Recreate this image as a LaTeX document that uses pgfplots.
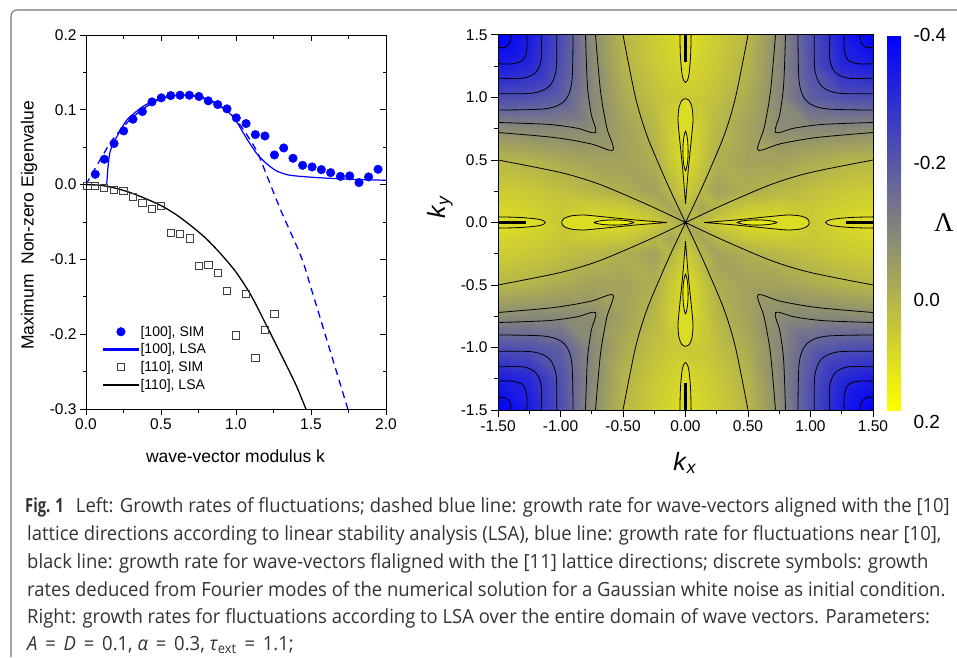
\documentclass[border=0pt]{standalone}
\usepackage{pgfplots}
\pgfplotsset{compat=1.18}
\usepackage{fontspec}
\setmainfont{Liberation Sans}
\newfontfamily\serifL{Liberation Serif}
\newfontfamily\capfont[FakeStretch=0.947]{Open Sans}
\definecolor{lobeA}{RGB}{220,220,36}
\definecolor{lobeB}{RGB}{232,232,20}
\definecolor{bblue}{RGB}{0,0,255}
\pgfplotsset{
  markleg/.style={legend image code/.code={\draw[##1, only marks] plot coordinates {(17pt,0pt)};}},
}
\begin{document}
\begin{tikzpicture}[x=1pt,y=1pt]
\path[use as bounding box] (0,0) rectangle (957,657);
\draw[line width=1.1pt, black!55, rounded corners=6pt] (11,0) -- (11,647) -- (960,647);

% ---------------- left plot ----------------
\begin{axis}[at={(86pt,248pt)}, anchor=south west, width=300pt, height=374pt, scale only axis,
  xmin=0, xmax=2, ymin=-0.3, ymax=0.2,
  xtick={0,0.5,1,1.5,2}, xticklabels={0.0,0.5,1.0,1.5,2.0},
  ytick={-0.3,-0.2,-0.1,0,0.1,0.2}, yticklabels={-0.3,-0.2,-0.1,0.0,0.1,0.2},
  minor x tick num=1, minor y tick num=1,
  xtick pos=left, ytick pos=left, tick align=outside,
  major tick length=6pt, minor tick length=3.5pt,
  axis line style={line width=1pt}, tick style={line width=1pt, black},
  tick label style={font=\fontsize{15.5}{15.5}\selectfont},
  legend style={draw=none, fill=none, at={(rel axis cs:0.057,0.228)}, anchor=north west,
    font=\fontsize{14}{14}\selectfont, row sep=2pt, inner sep=0pt, cells={anchor=west}},
  legend cell align=left]
\addplot[only marks, mark=*, mark size=4.3pt, color=bblue, mark options={fill=bblue}, markleg] coordinates {
(0.062,0.0138) (0.122,0.0339) (0.187,0.0549) (0.251,0.0718) (0.313,0.0874) (0.376,0.0977)
(0.44,0.1106) (0.502,0.116) (0.565,0.119) (0.627,0.1195) (0.689,0.1195) (0.753,0.1178)
(0.815,0.112) (0.878,0.107) (0.94,0.1013) (1.002,0.0892) (1.067,0.0816) (1.129,0.0669)
(1.193,0.065) (1.256,0.0396) (1.318,0.049) (1.38,0.0352) (1.444,0.0258) (1.507,0.0236)
(1.569,0.020) (1.631,0.016) (1.696,0.011) (1.758,0.0116) (1.82,0.0027) (1.884,0.0103)
(1.947,0.0205) (2.004,0.0067)};
\addlegendentry{[100], SIM}
\addplot[color=bblue, line width=1.2pt, smooth, tension=0.4,
  legend image code/.code={\fill[fill=bblue] (0pt,-0.5pt) rectangle (34pt,0.5pt);}] coordinates {
(0.138,0) (0.1467,0.0236) (0.16,0.0437) (0.193,0.0593) (0.271,0.086) (0.382,0.1048)
(0.493,0.115) (0.627,0.1195) (0.76,0.1175) (0.871,0.1084) (0.982,0.0905) (1.071,0.0616)
(1.138,0.0415) (1.204,0.028) (1.271,0.0182) (1.36,0.0125) (1.538,0.0094) (1.76,0.0072) (2.0,0.0058)};
\addlegendentry{[100], LSA}
\addplot[only marks, mark=square, mark size=3.6pt, color=black!75, mark options={line width=0.9pt}, markleg] coordinates {
(0.009,-0.0019) (0.06,-0.002) (0.122,-0.004) (0.187,-0.0067) (0.249,-0.0085) (0.311,-0.0166)
(0.376,-0.025) (0.438,-0.0321) (0.502,-0.029) (0.564,-0.0648) (0.627,-0.066) (0.691,-0.0719)
(0.753,-0.109) (0.816,-0.1076) (0.878,-0.118) (0.94,-0.142) (1.002,-0.2017) (1.064,-0.1464)
(1.129,-0.2316) (1.191,-0.194) (1.256,-0.1732)};
\addlegendentry{[110], SIM}
\addplot[black, line width=1.3pt, smooth,
  legend image code/.code={\fill[fill=black] (0pt,-0.5pt) rectangle (34pt,0.5pt);}] coordinates {
(0,0) (0.1,-0.001) (0.2,-0.005) (0.3,-0.011) (0.4,-0.019) (0.5,-0.028) (0.6,-0.040)
(0.7,-0.055) (0.8,-0.072) (0.9,-0.093) (1.0,-0.117) (1.1,-0.148) (1.2,-0.187) (1.3,-0.227)
(1.4,-0.268) (1.47,-0.302)};
\addlegendentry{[110], LSA}
\addplot[color=bblue, line width=1.3pt, dash pattern=on 7pt off 5pt, smooth, forget plot] coordinates {
(0,0) (0.05,0.018) (0.1,0.035) (0.15,0.052) (0.2,0.066) (0.3,0.088) (0.4,0.104) (0.5,0.115)
(0.6,0.1195) (0.7,0.119) (0.8,0.114) (0.9,0.104) (1.0,0.087) (1.1,0.058) (1.15,0.040)
(1.2,0.015) (1.3,-0.035) (1.4,-0.080) (1.45,-0.105) (1.5,-0.138) (1.6,-0.204) (1.7,-0.270) (1.75,-0.303)};
\end{axis}
\begin{axis}[at={(86pt,248pt)}, anchor=south west, width=300pt, height=374pt, scale only axis,
  xmin=0, xmax=2, ymin=-0.3, ymax=0.2,
  xtick={0,0.5,1,1.5,2}, ytick={-0.3,-0.2,-0.1,0,0.1,0.2}, xticklabels={}, yticklabels={},
  minor x tick num=1, minor y tick num=1,
  xtick pos=right, ytick pos=right, tick align=inside,
  major tick length=6pt, minor tick length=3.5pt,
  axis line style={line width=1pt}, tick style={line width=1pt, black}]
\end{axis}
\node[font=\fontsize{17.5}{17.5}\selectfont] at (235.5,201) {wave-vector modulus k};
\node[rotate=90, font=\fontsize{17.5}{17.5}\selectfont] at (29,431.5) {Maximum\ \ Non-zero Eigenvalue};

% ---------------- right plot ----------------
\begin{axis}[at={(498pt,247pt)}, anchor=south west, width=375pt, height=375pt, scale only axis,
  xmin=-1.5, xmax=1.5, ymin=-1.5, ymax=1.5,
  xtick={-1.5,-1,-0.5,0,0.5,1,1.5}, xticklabels={-1.50,-1.00,-0.50,0.00,0.50,1.00,1.50},
  ytick={-1.5,-1,-0.5,0,0.5,1,1.5}, yticklabels={-1.5,-1.0,-0.5,0.0,0.5,1.0,1.5},
  minor x tick num=1, minor y tick num=1,
  xtick pos=left, ytick pos=left, tick align=outside,
  major tick length=7pt, minor tick length=4pt,
  axis line style={line width=1pt}, tick style={line width=1pt, black},
  tick label style={font=\fontsize{15.5}{15.5}\selectfont},
  axis on top,
  colormap={bgy}{rgb255(0cm)=(0,0,255); rgb255(3cm)=(128,128,128); rgb255(6cm)=(255,255,0)},
  point meta min=-0.4, point meta max=0.2,
  colorbar,
  colorbar style={at={(1.0373,1)}, anchor=north west, width=20pt, y dir=reverse,
    ytick={-0.4,-0.195,0.024}, yticklabels={-0.4,-0.2,0.0},
    extra y ticks={0.2}, extra y tick labels={0.2},
    extra y tick style={yticklabel style={yshift=-12pt}},
    axis line style={draw=none}, major tick length=0pt,
    yticklabel style={font=\fontsize{19}{19}\selectfont, xshift=3pt}}]
\addplot[surf, shader=interp, mesh/cols=15, point meta=explicit] table[x=x, y=y, meta=v] {
x y v
-1.5 -1.5 -0.40
-1.25 -1.5 -0.34
-1 -1.5 -0.22
-0.75 -1.5 -0.07
-0.5 -1.5 0.03
-0.25 -1.5 0.08
-0.125 -1.5 0.10
0 -1.5 0.13
0.125 -1.5 0.10
0.25 -1.5 0.08
0.5 -1.5 0.03
0.75 -1.5 -0.07
1 -1.5 -0.22
1.25 -1.5 -0.34
1.5 -1.5 -0.40
-1.5 -1.25 -0.34
-1.25 -1.25 -0.31
-1 -1.25 -0.21
-0.75 -1.25 -0.08
-0.5 -1.25 0.02
-0.25 -1.25 0.07
-0.125 -1.25 0.09
0 -1.25 0.11
0.125 -1.25 0.09
0.25 -1.25 0.07
0.5 -1.25 0.02
0.75 -1.25 -0.08
1 -1.25 -0.21
1.25 -1.25 -0.31
1.5 -1.25 -0.34
-1.5 -1 -0.22
-1.25 -1 -0.21
-1 -1 -0.18
-0.75 -1 -0.08
-0.5 -1 0.00
-0.25 -1 0.05
-0.125 -1 0.07
0 -1 0.07
0.125 -1 0.07
0.25 -1 0.05
0.5 -1 0.00
0.75 -1 -0.08
1 -1 -0.18
1.25 -1 -0.21
1.5 -1 -0.22
-1.5 -0.75 -0.07
-1.25 -0.75 -0.08
-1 -0.75 -0.08
-0.75 -0.75 -0.07
-0.5 -0.75 -0.02
-0.25 -0.75 0.03
-0.125 -0.75 0.08
0 -0.75 0.12
0.125 -0.75 0.08
0.25 -0.75 0.03
0.5 -0.75 -0.02
0.75 -0.75 -0.07
1 -0.75 -0.08
1.25 -0.75 -0.08
1.5 -0.75 -0.07
-1.5 -0.5 0.03
-1.25 -0.5 0.02
-1 -0.5 0.00
-0.75 -0.5 -0.02
-0.5 -0.5 -0.02
-0.25 -0.5 0.01
-0.125 -0.5 0.07
0 -0.5 0.12
0.125 -0.5 0.07
0.25 -0.5 0.01
0.5 -0.5 -0.02
0.75 -0.5 -0.02
1 -0.5 0.00
1.25 -0.5 0.02
1.5 -0.5 0.03
-1.5 -0.25 0.08
-1.25 -0.25 0.07
-1 -0.25 0.05
-0.75 -0.25 0.03
-0.5 -0.25 0.01
-0.25 -0.25 -0.02
-0.125 -0.25 0.03
0 -0.25 0.08
0.125 -0.25 0.03
0.25 -0.25 -0.02
0.5 -0.25 0.01
0.75 -0.25 0.03
1 -0.25 0.05
1.25 -0.25 0.07
1.5 -0.25 0.08
-1.5 -0.125 0.10
-1.25 -0.125 0.09
-1 -0.125 0.07
-0.75 -0.125 0.08
-0.5 -0.125 0.07
-0.25 -0.125 0.03
-0.125 -0.125 -0.01
0 -0.125 0.04
0.125 -0.125 -0.01
0.25 -0.125 0.03
0.5 -0.125 0.07
0.75 -0.125 0.08
1 -0.125 0.07
1.25 -0.125 0.09
1.5 -0.125 0.10
-1.5 0 0.13
-1.25 0 0.11
-1 0 0.07
-0.75 0 0.12
-0.5 0 0.12
-0.25 0 0.08
-0.125 0 0.04
0 0 0.00
0.125 0 0.04
0.25 0 0.08
0.5 0 0.12
0.75 0 0.12
1 0 0.07
1.25 0 0.11
1.5 0 0.13
-1.5 0.125 0.10
-1.25 0.125 0.09
-1 0.125 0.07
-0.75 0.125 0.08
-0.5 0.125 0.07
-0.25 0.125 0.03
-0.125 0.125 -0.01
0 0.125 0.04
0.125 0.125 -0.01
0.25 0.125 0.03
0.5 0.125 0.07
0.75 0.125 0.08
1 0.125 0.07
1.25 0.125 0.09
1.5 0.125 0.10
-1.5 0.25 0.08
-1.25 0.25 0.07
-1 0.25 0.05
-0.75 0.25 0.03
-0.5 0.25 0.01
-0.25 0.25 -0.02
-0.125 0.25 0.03
0 0.25 0.08
0.125 0.25 0.03
0.25 0.25 -0.02
0.5 0.25 0.01
0.75 0.25 0.03
1 0.25 0.05
1.25 0.25 0.07
1.5 0.25 0.08
-1.5 0.5 0.03
-1.25 0.5 0.02
-1 0.5 0.00
-0.75 0.5 -0.02
-0.5 0.5 -0.02
-0.25 0.5 0.01
-0.125 0.5 0.07
0 0.5 0.12
0.125 0.5 0.07
0.25 0.5 0.01
0.5 0.5 -0.02
0.75 0.5 -0.02
1 0.5 0.00
1.25 0.5 0.02
1.5 0.5 0.03
-1.5 0.75 -0.07
-1.25 0.75 -0.08
-1 0.75 -0.08
-0.75 0.75 -0.07
-0.5 0.75 -0.02
-0.25 0.75 0.03
-0.125 0.75 0.08
0 0.75 0.12
0.125 0.75 0.08
0.25 0.75 0.03
0.5 0.75 -0.02
0.75 0.75 -0.07
1 0.75 -0.08
1.25 0.75 -0.08
1.5 0.75 -0.07
-1.5 1 -0.22
-1.25 1 -0.21
-1 1 -0.18
-0.75 1 -0.08
-0.5 1 0.00
-0.25 1 0.05
-0.125 1 0.07
0 1 0.07
0.125 1 0.07
0.25 1 0.05
0.5 1 0.00
0.75 1 -0.08
1 1 -0.18
1.25 1 -0.21
1.5 1 -0.22
-1.5 1.25 -0.34
-1.25 1.25 -0.31
-1 1.25 -0.21
-0.75 1.25 -0.08
-0.5 1.25 0.02
-0.25 1.25 0.07
-0.125 1.25 0.09
0 1.25 0.11
0.125 1.25 0.09
0.25 1.25 0.07
0.5 1.25 0.02
0.75 1.25 -0.08
1 1.25 -0.21
1.25 1.25 -0.31
1.5 1.25 -0.34
-1.5 1.5 -0.40
-1.25 1.5 -0.34
-1 1.5 -0.22
-0.75 1.5 -0.07
-0.5 1.5 0.03
-0.25 1.5 0.08
-0.125 1.5 0.10
0 1.5 0.13
0.125 1.5 0.10
0.25 1.5 0.08
0.5 1.5 0.03
0.75 1.5 -0.07
1 1.5 -0.22
1.25 1.5 -0.34
1.5 1.5 -0.40
};
% corner contours
\addplot[black, line width=0.8pt, smooth, tension=0.5, unbounded coords=jump] table {
x y
1.40 1.5
1.40 1.45
1.42 1.42
1.45 1.40
1.5 1.40
nan nan
1.27 1.5
1.27 1.38
1.30 1.30
1.38 1.27
1.5 1.27
nan nan
1.155 1.5
1.155 1.30
1.20 1.20
1.30 1.155
1.5 1.155
nan nan
1.03 1.5
1.035 1.22
1.09 1.09
1.22 1.035
1.5 1.03
nan nan
0.90 1.5
0.91 1.12
0.97 0.97
1.12 0.91
1.5 0.90
nan nan
0.80 1.5
0.785 1.1
0.755 0.87
0.72 0.72
0.87 0.755
1.1 0.785
1.5 0.80
nan nan
0.72 1.5
0.68 1.05
0.63 0.76
0.58 0.58
0.76 0.63
1.05 0.68
1.5 0.72
nan nan
-1.40 1.5
-1.40 1.45
-1.42 1.42
-1.45 1.40
-1.5 1.40
nan nan
-1.27 1.5
-1.27 1.38
-1.30 1.30
-1.38 1.27
-1.5 1.27
nan nan
-1.155 1.5
-1.155 1.30
-1.20 1.20
-1.30 1.155
-1.5 1.155
nan nan
-1.03 1.5
-1.035 1.22
-1.09 1.09
-1.22 1.035
-1.5 1.03
nan nan
-0.90 1.5
-0.91 1.12
-0.97 0.97
-1.12 0.91
-1.5 0.90
nan nan
-0.80 1.5
-0.785 1.1
-0.755 0.87
-0.72 0.72
-0.87 0.755
-1.1 0.785
-1.5 0.80
nan nan
-0.72 1.5
-0.68 1.05
-0.63 0.76
-0.58 0.58
-0.76 0.63
-1.05 0.68
-1.5 0.72
nan nan
1.40 -1.5
1.40 -1.45
1.42 -1.42
1.45 -1.40
1.5 -1.40
nan nan
1.27 -1.5
1.27 -1.38
1.30 -1.30
1.38 -1.27
1.5 -1.27
nan nan
1.155 -1.5
1.155 -1.30
1.20 -1.20
1.30 -1.155
1.5 -1.155
nan nan
1.03 -1.5
1.035 -1.22
1.09 -1.09
1.22 -1.035
1.5 -1.03
nan nan
0.90 -1.5
0.91 -1.12
0.97 -0.97
1.12 -0.91
1.5 -0.90
nan nan
0.80 -1.5
0.785 -1.1
0.755 -0.87
0.72 -0.72
0.87 -0.755
1.1 -0.785
1.5 -0.80
nan nan
0.72 -1.5
0.68 -1.05
0.63 -0.76
0.58 -0.58
0.76 -0.63
1.05 -0.68
1.5 -0.72
nan nan
-1.40 -1.5
-1.40 -1.45
-1.42 -1.42
-1.45 -1.40
-1.5 -1.40
nan nan
-1.27 -1.5
-1.27 -1.38
-1.30 -1.30
-1.38 -1.27
-1.5 -1.27
nan nan
-1.155 -1.5
-1.155 -1.30
-1.20 -1.20
-1.30 -1.155
-1.5 -1.155
nan nan
-1.03 -1.5
-1.035 -1.22
-1.09 -1.09
-1.22 -1.035
-1.5 -1.03
nan nan
-0.90 -1.5
-0.91 -1.12
-0.97 -0.97
-1.12 -0.91
-1.5 -0.90
nan nan
-0.80 -1.5
-0.785 -1.1
-0.755 -0.87
-0.72 -0.72
-0.87 -0.755
-1.1 -0.785
-1.5 -0.80
nan nan
-0.72 -1.5
-0.68 -1.05
-0.63 -0.76
-0.58 -0.58
-0.76 -0.63
-1.05 -0.68
-1.5 -0.72
};
% lines through the origin
\addplot[black, line width=0.8pt, smooth, tension=0.5, unbounded coords=jump] table {
x y
-1.5 0.5
-1.0 0.40
-0.7 0.31
-0.4 0.185
-0.2 0.095
0 0
0.2 -0.095
0.4 -0.185
0.7 -0.31
1.0 -0.40
1.5 -0.5
nan nan
-1.5 -0.5
-1.0 -0.40
-0.7 -0.31
-0.4 -0.185
-0.2 -0.095
0 0
0.2 0.095
0.4 0.185
0.7 0.31
1.0 0.40
1.5 0.5
nan nan
-0.5 1.5
-0.40 1.0
-0.31 0.7
-0.185 0.4
-0.095 0.2
0 0
0.095 -0.2
0.185 -0.4
0.31 -0.7
0.40 -1.0
0.5 -1.5
nan nan
0.5 1.5
0.40 1.0
0.31 0.7
0.185 0.4
0.095 0.2
0 0
-0.095 -0.2
-0.185 -0.4
-0.31 -0.7
-0.40 -1.0
-0.5 -1.5
};
% lobes along the axes (filled)
\addplot[draw=black, fill=lobeA, line width=0.8pt, smooth, tension=0.5, unbounded coords=jump] table {
x y
0 0.15
0.008 0.25
0.02 0.4
0.035 0.55
0.05 0.7
0.06 0.82
0.052 0.92
0.03 0.975
0 0.99
-0.03 0.975
-0.052 0.92
-0.06 0.82
-0.05 0.7
-0.035 0.55
-0.02 0.4
-0.008 0.25
0 0.15
nan nan
0 -0.15
0.008 -0.25
0.02 -0.4
0.035 -0.55
0.05 -0.7
0.06 -0.82
0.052 -0.92
0.03 -0.975
0 -0.99
-0.03 -0.975
-0.052 -0.92
-0.06 -0.82
-0.05 -0.7
-0.035 -0.55
-0.02 -0.4
-0.008 -0.25
0 -0.15
nan nan
0.15 0
0.25 0.008
0.4 0.02
0.55 0.035
0.7 0.05
0.82 0.06
0.92 0.052
0.975 0.03
0.99 0
0.975 -0.03
0.92 -0.052
0.82 -0.06
0.7 -0.05
0.55 -0.035
0.4 -0.02
0.25 -0.008
0.15 0
nan nan
-0.15 0
-0.25 0.008
-0.4 0.02
-0.55 0.035
-0.7 0.05
-0.82 0.06
-0.92 0.052
-0.975 0.03
-0.99 0
-0.975 -0.03
-0.92 -0.052
-0.82 -0.06
-0.7 -0.05
-0.55 -0.035
-0.4 -0.02
-0.25 -0.008
-0.15 0
nan nan
-0.045 1.5
-0.04 1.32
-0.025 1.17
0 1.12
0.025 1.17
0.04 1.32
0.045 1.5
nan nan
-0.045 -1.5
-0.04 -1.32
-0.025 -1.17
0 -1.12
0.025 -1.17
0.04 -1.32
0.045 -1.5
nan nan
1.5 -0.045
1.32 -0.04
1.17 -0.025
1.12 0
1.17 0.025
1.32 0.04
1.5 0.045
nan nan
-1.5 -0.045
-1.32 -0.04
-1.17 -0.025
-1.12 0
-1.17 0.025
-1.32 0.04
-1.5 0.045
};
\addplot[draw=black, fill=lobeB, line width=0.8pt, smooth, tension=0.5, unbounded coords=jump] table {
x y
0 0.41
0.015 0.47
0.021 0.57
0.015 0.67
0 0.73
-0.015 0.67
-0.021 0.57
-0.015 0.47
0 0.41
nan nan
0 -0.41
0.015 -0.47
0.021 -0.57
0.015 -0.67
0 -0.73
-0.015 -0.67
-0.021 -0.57
-0.015 -0.47
0 -0.41
nan nan
0.41 0
0.47 0.015
0.57 0.021
0.67 0.015
0.73 0
0.67 -0.015
0.57 -0.021
0.47 -0.015
0.41 0
nan nan
-0.41 0
-0.47 0.015
-0.57 0.021
-0.67 0.015
-0.73 0
-0.67 -0.015
-0.57 -0.021
-0.47 -0.015
-0.41 0
};
\addplot[black, line width=2.6pt, unbounded coords=jump] table {
x y
0 1.28
0 1.5
nan nan
0 -1.28
0 -1.5
nan nan
1.28 0
1.5 0
nan nan
-1.28 0
-1.5 0
};
\end{axis}
\node[font=\fontsize{25}{25}\selectfont] at (685,194) {\textit{k}\textsubscript{\textit{x}}};
\node[rotate=90, font=\fontsize{25}{25}\selectfont] at (440,450) {\textit{k}\textsubscript{\textit{y}}};
\node[font=\serifL\fontsize{27}{27}\selectfont] at (944,434) {Λ};

% ---------------- caption ----------------
\begin{scope}[every node/.style={anchor=base west, inner sep=0pt, text=black!80,
   font=\capfont\fontsize{19.5}{19.5}\selectfont}]
\node at (25,145) {\scalebox{0.8}[1]{\textbf{Fig. 1}}\hspace{12pt}Left: Growth rates of fluctuations; dashed blue line: growth rate for wave-vectors aligned with the [10]};
\node at (27,117) {lattice directions according to linear stability analysis (LSA), blue line: growth rate for fluctuations near [10],};
\node at (27,89) {black line: growth rate for wave-vectors flaligned with the [11] lattice directions; discrete symbols: growth};
\node at (27,61) {rates deduced from Fourier modes of the numerical solution for a Gaussian white noise as initial condition.};
\node at (27,34) {Right: growth rates for fluctuations according to LSA over the entire domain of wave vectors. Parameters:};
\node at (27,7) {\textit{A}\hspace{0.4em}=\hspace{0.4em}\textit{D}\hspace{0.4em}=\hspace{0.4em}0.1, \textit{α}\hspace{0.4em}=\hspace{0.4em}0.3, \textit{τ}\textsubscript{ext}\hspace{0.4em}=\hspace{0.4em}1.1;};
\end{scope}
\end{tikzpicture}
\end{document}
